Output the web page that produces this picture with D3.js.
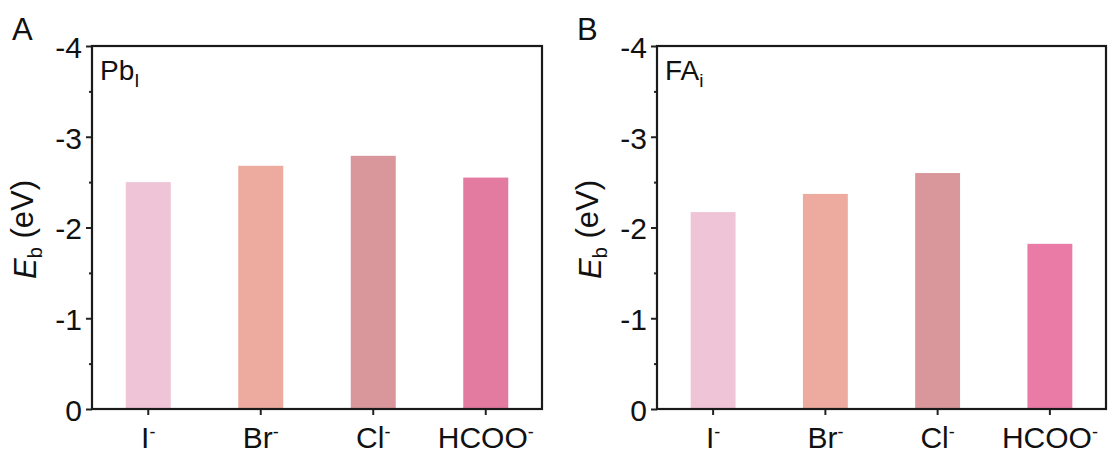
<!DOCTYPE html>
<html><head><meta charset="utf-8">
<script src="https://cdn.jsdelivr.net/npm/d3@7"></script>
<style>body{margin:0;background:#fff}svg{display:block}text{font-family:Arial,"Liberation Sans",sans-serif;fill:#111}</style>
</head><body><div id="chart"></div>
<script>
const categories = ["I", "Br", "Cl", "HCOO"];
const valuesA = [-2.50, -2.68, -2.79, -2.55];
const valuesB = [-2.17, -2.37, -2.60, -1.82];
const colorsA = ["#EFC4D6", "#EDAB9F", "#D9979B", "#E37A9F"];
const colorsB = ["#EFC4D6", "#EDAB9F", "#D9979B", "#EA7BA6"];
const yTicks = [0, -1, -2, -3, -4];
const yMinor = [-0.5, -1.5, -2.5, -3.5];

const W = 1109, H = 455;
const svg = d3.select("#chart").append("svg").attr("width", W).attr("height", H);

function panel(cfg) {
  const {left, right, top, bottom, values, colors, letter, site, sub} = cfg;
  const g = svg.append("g");
  const x = d3.scaleBand().domain(categories).range([left, right]).paddingInner(0.6).paddingOuter(0.3);
  const y = d3.scaleLinear().domain([0, -4]).range([bottom, top]);

  // bars
  g.selectAll("rect.bar").data(categories).enter().append("rect")
    .attr("x", d => x(d)).attr("width", x.bandwidth())
    .attr("y", (d, i) => y(values[i])).attr("height", (d, i) => y(0) - y(values[i]))
    .attr("fill", (d, i) => colors[i]);

  // y axis
  const yAxis = d3.axisLeft(y).tickValues(yTicks).tickSize(6).tickPadding(4).tickFormat(d => String(d));
  const ya = g.append("g").attr("transform", `translate(${left},0)`).call(yAxis);
  ya.select(".domain").remove();
  ya.selectAll(".tick line").attr("stroke", "#222").attr("stroke-width", 2);
  ya.selectAll(".tick text").style("font-size", "30px").attr("fill", "#111").attr("dy", "0.38em");
  g.append("g").attr("transform", `translate(${left},0)`)
    .call(d3.axisLeft(y).tickValues(yMinor).tickSize(3).tickFormat(""))
    .call(s => { s.select(".domain").remove(); s.selectAll("line").attr("stroke", "#222").attr("stroke-width", 2); });

  // x axis
  const xa = g.append("g").attr("transform", `translate(0,${bottom})`)
    .call(d3.axisBottom(x).tickSize(6).tickPadding(8).tickFormat(""));
  xa.select(".domain").remove();
  xa.selectAll(".tick line").attr("stroke", "#222").attr("stroke-width", 2);
  xa.selectAll(".tick").append("text")
    .attr("y", 39).attr("text-anchor", "middle").style("font-size", "30px").attr("fill", "#111")
    .each(function(d) {
      const t = d3.select(this);
      t.append("tspan").text(d);
      t.append("tspan").attr("dy", "-0.55em").style("font-size", "18px").text("-");
    });

  // frame
  g.append("rect").attr("x", left).attr("y", top).attr("width", right - left).attr("height", bottom - top)
    .attr("fill", "none").attr("stroke", "#1a1a1a").attr("stroke-width", 2.2);

  // panel letter
  g.append("text").attr("x", left - 80).attr("y", 40).style("font-size", "31px").text(letter);

  // site label
  const st = g.append("text").attr("x", left + 8).attr("y", top + 34).style("font-size", "28px");
  st.append("tspan").text(site);
  st.append("tspan").attr("dy", "0.35em").style("font-size", "19px").text(sub);

  // y title
  const yt = g.append("text").attr("transform", `translate(${left - 56},${(top + bottom) / 2 + 2}) rotate(-90)`)
    .attr("text-anchor", "middle").style("font-size", "31px");
  yt.append("tspan").style("font-style", "italic").text("E");
  yt.append("tspan").attr("dy", "0.3em").style("font-size", "20px").text("b");
  yt.append("tspan").attr("dy", "-0.3em").text(" (eV)");
}

panel({left: 92, right: 542, top: 46, bottom: 409, values: valuesA, colors: colorsA, letter: "A", site: "Pb", sub: "I"});
panel({left: 657, right: 1106, top: 46, bottom: 409, values: valuesB, colors: colorsB, letter: "B", site: "FA", sub: "i"});
</script></body></html>
